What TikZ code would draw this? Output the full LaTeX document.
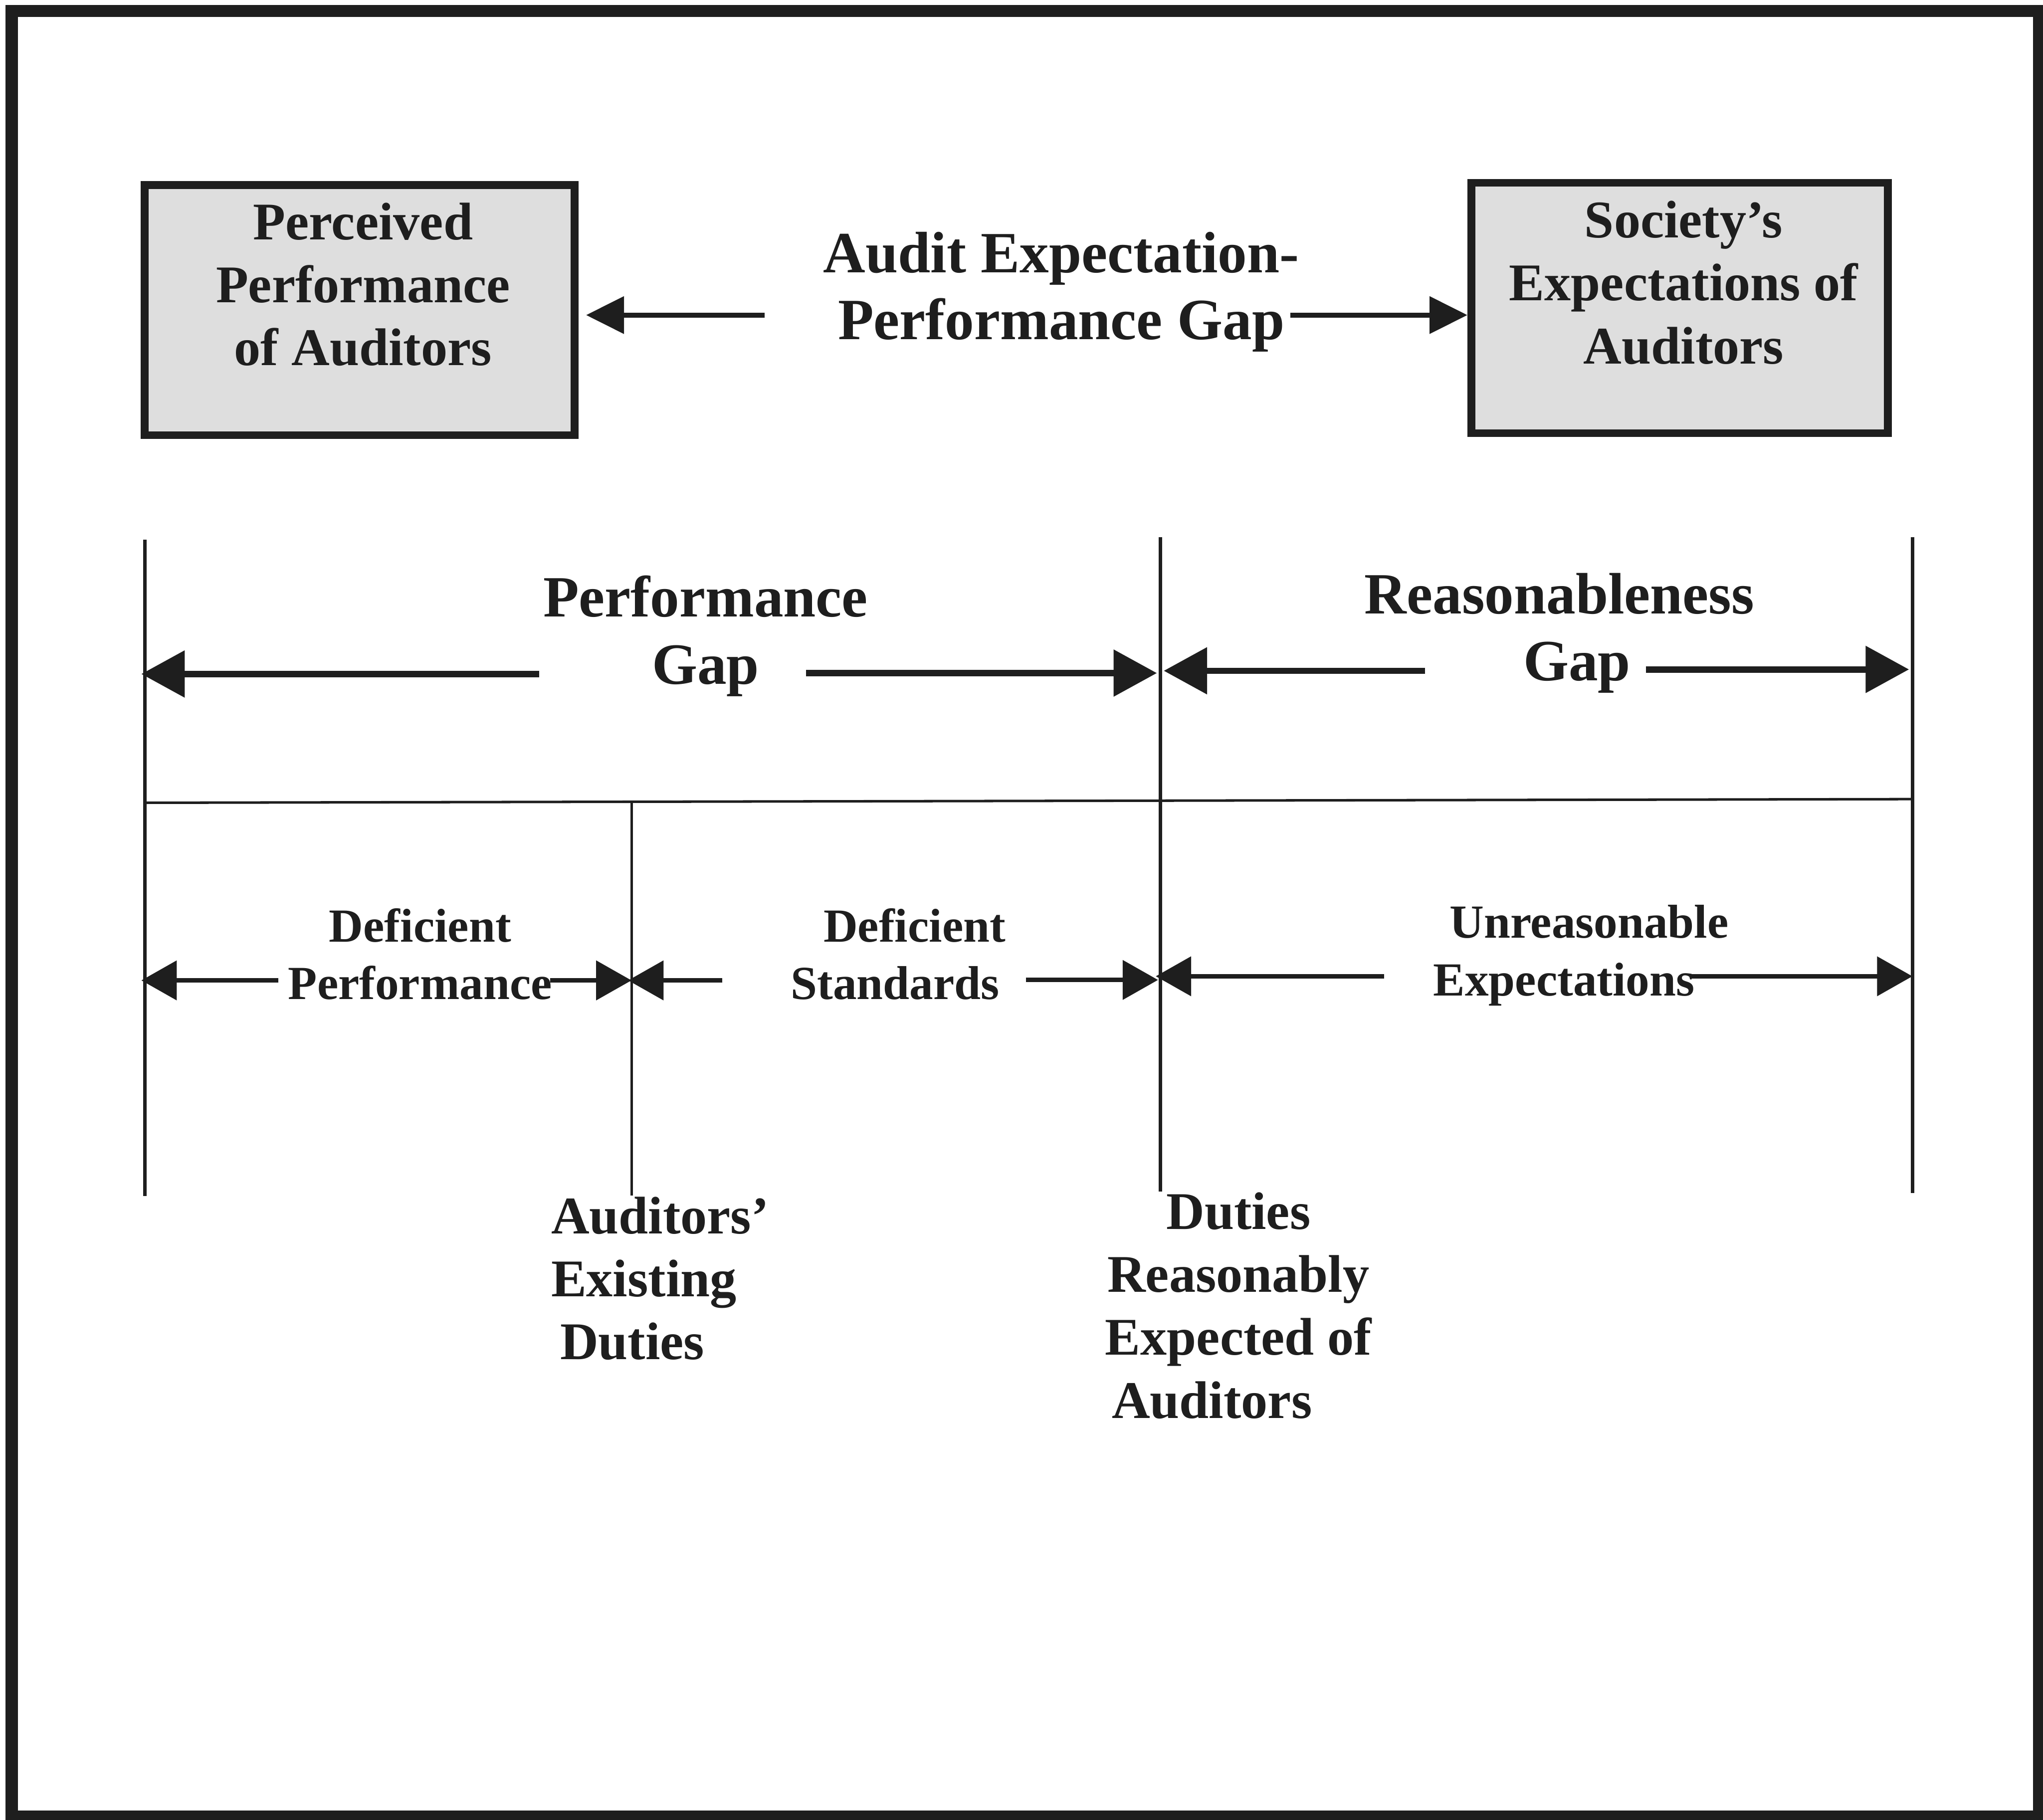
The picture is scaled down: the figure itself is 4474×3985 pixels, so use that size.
\documentclass[tikz,border=0pt]{standalone}
\usepackage{fontspec}
\setmainfont{Liberation Serif}
\usetikzlibrary{arrows.meta}
\definecolor{ink}{HTML}{1E1E1E}
\definecolor{boxfill}{gray}{0.87}
\begin{document}
\begin{tikzpicture}[x=0.2pt,y=-0.2pt,
  every node/.style={inner sep=0pt, outer sep=0pt, text=ink},
  gapbox/.style={draw=ink, line width=3.4pt, fill=boxfill, outer sep=1.7pt,
    minimum height=109.6pt},
  boxlbl/.style={font=\fontsize{23.2pt}{27.6pt}\selectfont\bfseries, align=center, anchor=north},
  biglbl/.style={font=\fontsize{25.6pt}{29.4pt}\selectfont\bfseries, align=center, anchor=north},
  smalllbl/.style={font=\fontsize{20.8pt}{25.2pt}\selectfont\bfseries, align=center, anchor=north},
  toparr/.style={draw=ink, line width=2.2pt, -{Triangle[length=16.6pt,width=16pt]}},
  gaparr/.style={draw=ink, line width=2.8pt, -{Triangle[length=19pt,width=20pt]}},
  lowarr/.style={draw=ink, line width=2pt, -{Triangle[length=15.5pt,width=17pt]}},
  divider/.style={draw=ink, line width=1.6pt},
  thinrule/.style={draw=ink, line width=1.1pt}]

\useasboundingbox (0,0) rectangle (4474,3985);

% outer frame
\draw[draw=ink, line width=5.4pt] (26,24) rectangle (4466,3978);

% the two boxes
\node[gapbox, minimum width=188.2pt] (lbox) at (787.5,679) {};
\node[gapbox, minimum width=182.4pt] (rbox) at (3678,674.5) {};
\node[boxlbl] (lboxtxt) at (795,444) {Perceived\\Performance\\of Auditors};
\node[boxlbl] (rboxtxt) at (3687,440) {Society’s\\Expectations of\\Auditors};

% overall gap between them
\node[biglbl] (aepg) at (2324,508) {Audit Expectation-\\Performance Gap};
\coordinate (aepgl) at (1674,690);
\coordinate (aepgr) at (2826,690);
\draw[toparr, shorten >=3.4pt] (aepgl) -- (aepgl -| lbox.east);
\draw[toparr] (aepgr) -- (aepgr -| rbox.west);

% vertical boundaries
\coordinate (v1t) at (317,1182);  \coordinate (v1b) at (317,2619);
\coordinate (v3t) at (2541,1176); \coordinate (v3b) at (2541,2609);
\coordinate (v4t) at (4188,1176); \coordinate (v4b) at (4188,2613);
\coordinate (hl) at (317,1758);   \coordinate (hr) at (4188,1750);
\coordinate (v2t) at (1383,1756); \coordinate (v2b) at (1383,2618);
\draw[divider] (v1t) -- (v1b);
\draw[divider] (v3t) -- (v3b);
\draw[divider] (v4t) -- (v4b);
\draw[thinrule] (hl) -- (hr);
\draw[thinrule] (v2t) -- (v2b);

% upper gaps
\node[biglbl] (pgap) at (1545,1261) {Performance\\Gap};
\node[biglbl] (rgap) at (3415,1255) {Reasonableness\\\hspace*{0.6em}Gap};
\coordinate (pgl) at (1181,1476);
\coordinate (pgr) at (1765,1474);
\coordinate (rgl) at (3121,1469);
\coordinate (rgr) at (3604,1466);
\draw[gaparr, shorten >=-1.5pt] (pgl) -- (pgl -| v1t);
\draw[gaparr, shorten >=1.5pt] (pgr) -- (pgr -| v3t);
\draw[gaparr, shorten >=1.5pt] (rgl) -- (rgl -| v3t);
\draw[gaparr, shorten >=1.5pt] (rgr) -- (rgr -| v4t);

% lower components
\node[smalllbl] (dperf) at (920,1989) {Deficient\\Performance};
\node[smalllbl] (dstd) at (1960,1989) {\hspace*{0.82em}Deficient\\Standards};
\node[smalllbl] (uexp) at (3425,1982) {\hspace*{1.06em}Unreasonable\\Expectations};
\coordinate (dpl) at (610,2147);
\coordinate (dpr) at (1205,2147);
\coordinate (dsl) at (1582,2147);
\coordinate (dsr) at (2247,2146);
\coordinate (uel) at (3031,2138);
\coordinate (uer) at (3702,2138);
\draw[lowarr, shorten >=-1.5pt] (dpl) -- (dpl -| v1t);
\draw[lowarr] (dpr) -- (dpr -| v2t);
\draw[lowarr, shorten >=-1.5pt] (dsl) -- (dsl -| v2t);
\draw[lowarr, shorten >=1pt] (dsr) -- (dsr -| v3t);
\draw[lowarr, shorten >=-2pt] (uel) -- (uel -| v3t);
\draw[lowarr] (uer) -- (uer -| v4t);

% boundary labels
\node[boxlbl, align=left, anchor=north west] (existing) at (1207,2621)
  {Auditors’\\Existing\\\hspace*{0.17em}Duties};
\node[boxlbl] (reasonable) at (2712,2611)
  {Duties\\Reasonably\\Expected of\\Auditors\hspace*{1em}};
\end{tikzpicture}
\end{document}
